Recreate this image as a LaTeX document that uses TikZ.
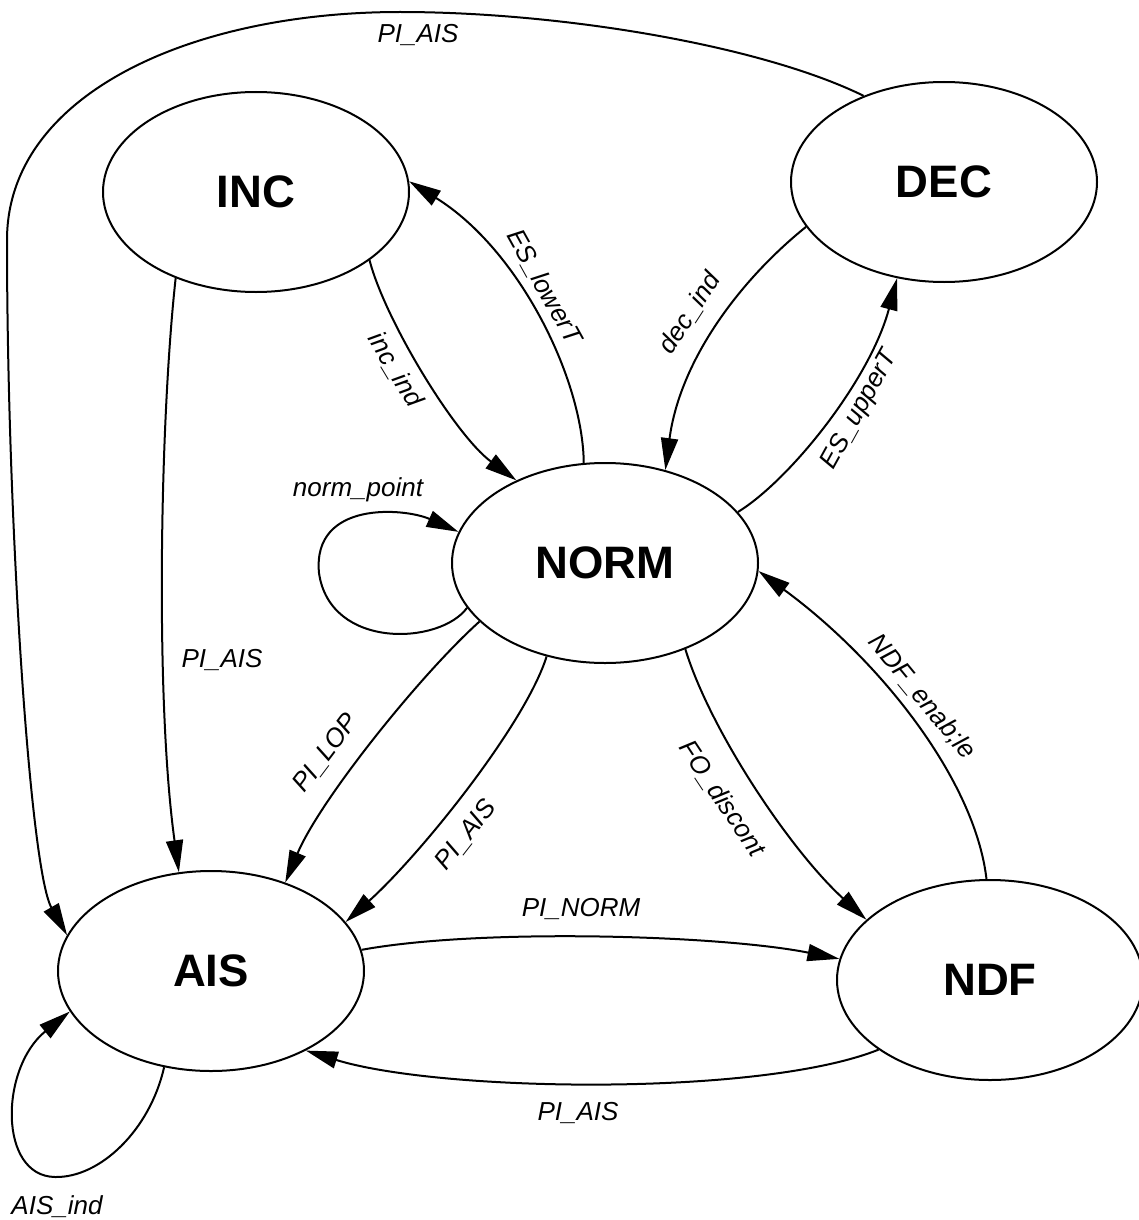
\documentclass[tikz,border=0pt]{standalone}
\usepackage{fontspec}
\setmainfont{Liberation Sans}
\usetikzlibrary{arrows.meta,shapes.geometric}
\tikzset{
  state/.style={draw, line width=2pt, ellipse, minimum width=306pt, minimum height=200pt, inner sep=0pt, font=\fontsize{45.5}{50}\selectfont\bfseries},
  edge/.style={draw, line width=2pt, -{Triangle[length=32pt,width=17pt]}},
  lbl/.style={font=\fontsize{26}{30}\selectfont\itshape, inner sep=0pt}
}
\begin{document}
\begin{tikzpicture}[x=1pt,y=-1pt]
\useasboundingbox (0,0) rectangle (1138,1220);
\node[state] (INC) at (256,192) {INC};
\node[state] (DEC) at (944,182) {DEC};
\node[state] (NORM) at (605,563) {NORM};
\node[state] (AIS) at (211,971) {AIS};
\node[state] (NDF) at (990,980) {NDF};

% DEC -> AIS (top)
\draw[edge] (DEC.133) .. controls (760,45) and (560,12) .. (400,12) .. controls (190,12) and (7,95) .. (7,240) .. controls (7,520) and (30,870) .. (AIS.166);
\node[lbl] (l1) at (418,35) {PI\_AIS};

% INC -> AIS
\draw[edge] (INC.227) .. controls (160,420) and (155,700) .. (AIS.108);
\node[lbl] (l2) at (222,660) {PI\_AIS};

% NORM -> INC
\draw[edge] (NORM.102) .. controls (583,380) and (520,250) .. (INC.4);
\node[lbl, rotate=-61] (l3) at (544,287) {ES\_lowerT};

% INC -> NORM
\draw[edge] (INC.-31) .. controls (385,320) and (455,435) .. (NORM.137);
\node[lbl, rotate=-59] (l4) at (395,370) {inc\_ind};

% DEC -> NORM
\draw[edge] (DEC.198) .. controls (740,280) and (680,360) .. (NORM.57);
\node[lbl, rotate=57] (l5) at (690,313) {dec\_ind};

% NORM -> DEC
\draw[edge] (NORM.21) .. controls (790,480) and (870,380) .. (DEC.244);
\node[lbl, rotate=61] (l6) at (860,410) {ES\_upperT};

% NORM self loop
\draw[edge] (NORM.198) .. controls (440,645) and (330,650) .. (319,573) .. controls (312,500) and (405,508) .. (NORM.168);
\node[lbl] (l7) at (358,490) {norm\_point};

% NORM -> AIS (PI_LOP)
\draw[edge] (NORM.205) .. controls (420,675) and (320,800) .. (AIS.50);
\node[lbl, rotate=53] (l8) at (326,753) {PI\_LOP};

% NORM -> AIS (PI_AIS)
\draw[edge] (NORM.238) .. controls (525,725) and (420,855) .. (AIS.20);
\node[lbl, rotate=52] (l9) at (466,835) {PI\_AIS};

% NORM -> NDF
\draw[edge] (NORM.313) .. controls (710,730) and (790,850) .. (NDF.154);
\node[lbl, rotate=-56.5] (l10) at (722,799) {FO\_discont};

% NDF -> NORM
\draw[edge] (NDF.92) .. controls (975,780) and (880,660) .. (NORM.-3);
\node[lbl, rotate=-50.6] (l11) at (922,697) {NDF\_enab;le};

% AIS -> NDF
\draw[edge] (AIS.8) .. controls (480,928) and (720,935) .. (NDF.172);
\node[lbl] (l12) at (581,909) {PI\_NORM};

% NDF -> AIS
\draw[edge] (NDF.212) .. controls (760,1097) and (440,1092) .. (AIS.320);
\node[lbl] (l13) at (578,1113) {PI\_AIS};

% AIS self loop
\draw[edge] (AIS.244) .. controls (150,1130) and (100,1178) .. (55,1177) .. controls (-2,1176) and (0,1068) .. (AIS.196);
\node[lbl] (l14) at (57,1207) {AIS\_ind};
\end{tikzpicture}
\end{document}
